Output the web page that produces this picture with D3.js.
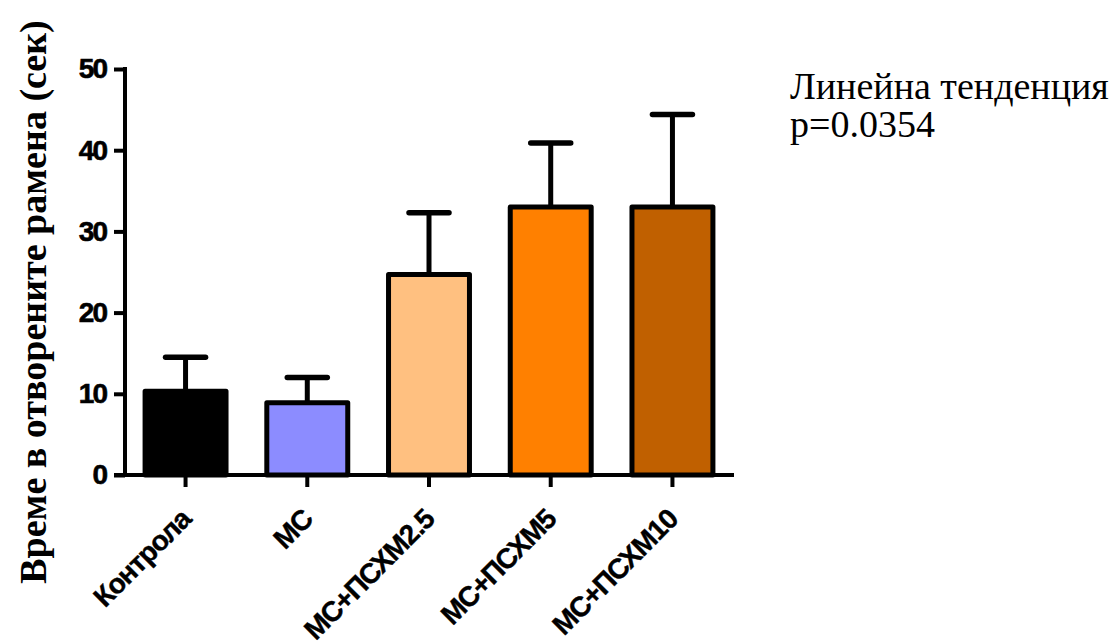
<!DOCTYPE html>
<html><head><meta charset="utf-8">
<script src="https://cdn.jsdelivr.net/npm/d3@7"></script>
<style>body{margin:0;background:#fff}svg{display:block}</style>
</head><body>
<script>
const categories = ["Контрола","МС","МС+ПСХМ2.5","МС+ПСХМ5","МС+ПСХМ10"];
const means = [10.3, 8.9, 24.7, 33.0, 33.0];
const sems = [4.2, 3.1, 7.6, 7.9, 11.4];
const colors = ["#000000","#8c8cff","#ffc080","#ff8000","#c06000"];
const yTicks = [0,10,20,30,40,50];
const yLabel = "Време в отворените рамена (сек)";
const noteLines = ["Линейна тенденция","p=0.0354"];

const W=1112,H=643;
const svg=d3.select("body").append("svg").attr("width",W).attr("height",H);
const y=d3.scaleLinear().domain([0,50]).range([475,69]);
const x=d3.scaleBand().domain(categories).range([125,733]).paddingInner(0.335).paddingOuter(0.165);

// bars
svg.selectAll("rect.bar").data(categories).join("rect")
  .attr("x",d=>x(d)).attr("width",x.bandwidth())
  .attr("y",(d,i)=>y(means[i])).attr("height",(d,i)=>y(0)-y(means[i]))
  .attr("fill",(d,i)=>colors[i]).attr("stroke","#000").attr("stroke-width",5)
  .attr("stroke-linejoin","round");

// error bars
const eb=svg.append("g").attr("stroke","#000");
categories.forEach((c,i)=>{
  const cx=x(c)+x.bandwidth()/2;
  eb.append("line").attr("x1",cx).attr("x2",cx).attr("y1",y(means[i])).attr("y2",y(means[i]+sems[i])).attr("stroke-width",5);
  eb.append("line").attr("x1",cx-20).attr("x2",cx+20).attr("y1",y(means[i]+sems[i])).attr("y2",y(means[i]+sems[i])).attr("stroke-width",5.5).attr("stroke-linecap","round");
});

// y axis
const ya=svg.append("g").attr("transform","translate(125,0)")
  .call(d3.axisLeft(y).tickValues(yTicks).tickSize(11).tickSizeOuter(0).tickPadding(8));
ya.select(".domain").attr("stroke-width",4).attr("d","M0,"+(y(50)-2)+"V"+(y(0)+2));
ya.selectAll(".tick line").attr("stroke-width",4);
ya.selectAll(".tick text").attr("font-family","Liberation Sans, Arial, sans-serif").attr("font-weight","bold").attr("font-size",28).attr("letter-spacing",-2).attr("fill","#000")
  .attr("stroke","#000").attr("stroke-width",0.6);

// x axis
const xa=svg.append("g").attr("transform","translate(0,475)")
  .call(d3.axisBottom(x).tickSize(12).tickSizeOuter(0).tickFormat(""));
xa.select(".domain").attr("stroke-width",4).attr("d","M114,0H734");
xa.selectAll(".tick line").attr("stroke-width",4);
xa.selectAll(".tick").append("text")
  .attr("transform","translate(7,46) rotate(-45)")
  .attr("text-anchor","end").attr("fill","#000")
  .attr("font-family","Liberation Sans, Arial, sans-serif").attr("font-weight","bold").attr("font-size",28)
  .attr("letter-spacing",-1).attr("stroke","#000").attr("stroke-width",0.4)
  .text(d=>d);

// y label
svg.append("text").attr("transform","translate(46,302) rotate(-90)")
  .attr("text-anchor","middle").attr("font-family","Liberation Serif, Times New Roman, serif")
  .attr("font-weight","bold").attr("font-size",38).attr("fill","#000").text(yLabel);

// note
svg.append("g").selectAll("text").data(noteLines).join("text")
  .attr("x",790).attr("y",(d,i)=>99+i*38)
  .attr("font-family","Liberation Serif, Times New Roman, serif").attr("font-size",38).attr("fill","#000")
  .text(d=>d);
</script>
</body></html>
